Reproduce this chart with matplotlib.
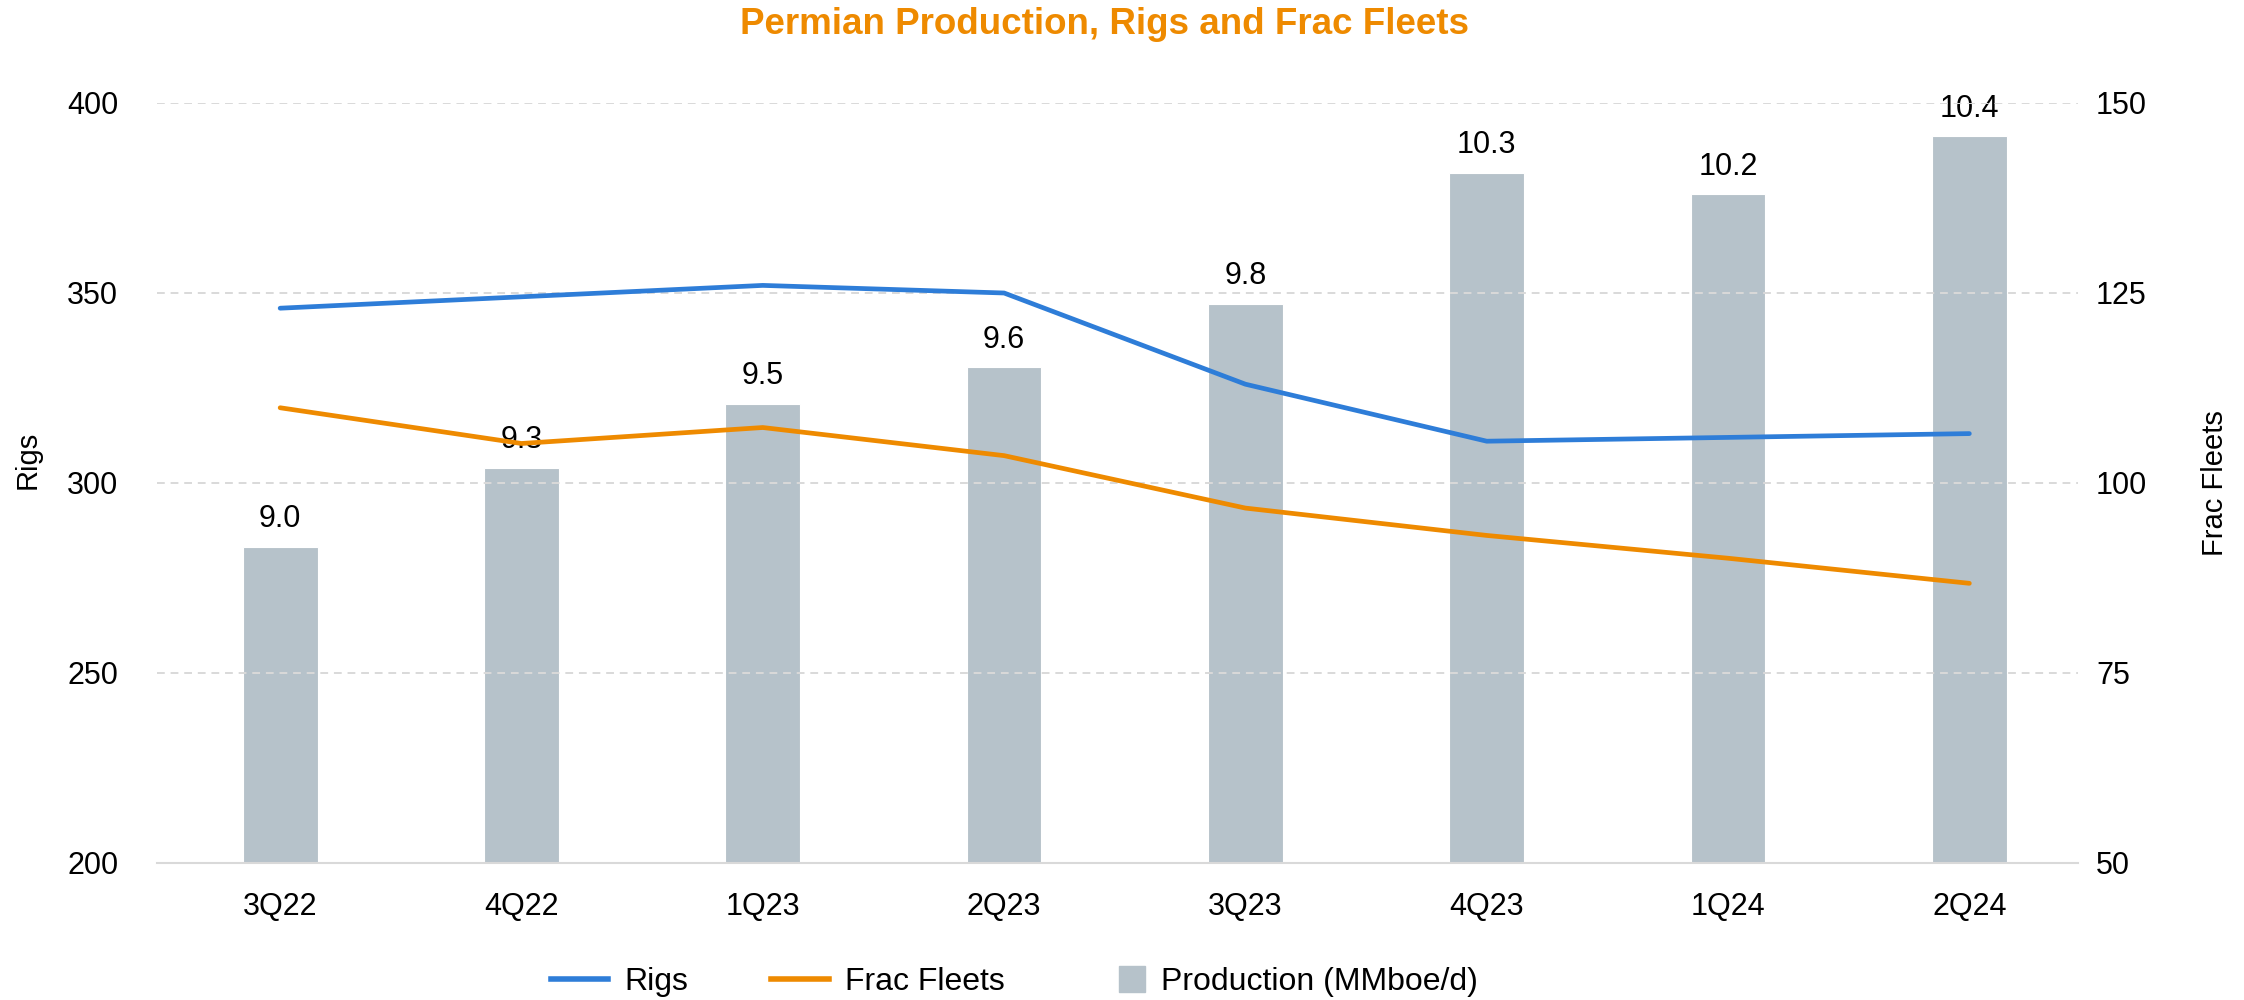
import matplotlib.pyplot as plt
from matplotlib.lines import Line2D
from matplotlib.patches import Patch, Rectangle
from matplotlib.legend_handler import HandlerPatch

# Data
quarters = ['3Q22', '4Q22', '1Q23', '2Q23', '3Q23', '4Q23', '1Q24', '2Q24']
rigs = [346, 349, 352, 350, 326, 311, 312, 313]
frac_fleets = [109.9, 105.2, 107.3, 103.6, 96.7, 93.1, 90.1, 86.8]
production = [9.04, 9.30, 9.51, 9.63, 9.84, 10.27, 10.20, 10.39]

blue = '#2E7DD8'
orange = '#EE8A00'
bar_color = '#B6C2CA'
grid_color = '#D9D9D9'

plt.rcParams['font.family'] = ['Liberation Sans', 'DejaVu Sans']

fig = plt.figure(figsize=(22.44, 10), dpi=100)
ax = fig.add_axes([0.070, 0.137, 0.856, 0.760])
ax2 = ax.twinx()
ax3 = ax.twinx()

x = list(range(len(quarters)))

# production bars on a hidden axis, drawn underneath
ax3.set_zorder(0)
ax.set_zorder(1)
ax2.set_zorder(2)
ax.patch.set_visible(False)
ax2.patch.set_visible(False)

ax3.bar(x, production, width=0.31, color=bar_color, edgecolor='white', linewidth=0.8)
ax3.set_ylim(8.0, 10.5)
ax3.axis('off')
for xi, v in zip(x, production):
    ax3.annotate(f'{v:.1f}', (xi, v), xytext=(0, 9), textcoords='offset points',
                 ha='center', va='bottom', fontsize=22)

ax.plot(x, rigs, color=blue, lw=3.4, solid_capstyle='round')
ax2.plot(x, frac_fleets, color=orange, lw=3.4, solid_capstyle='round')

ax.set_ylim(200, 400)
ax.set_yticks([200, 250, 300, 350, 400])
ax2.set_ylim(50, 150)
ax2.set_yticks([50, 75, 100, 125, 150])
ax.set_xlim(-0.51, 7.45)
ax.set_xticks(x)
ax.set_xticklabels(quarters)

ax.grid(axis='y', color=grid_color, linestyle=(0, (4, 3)), lw=1.4)

for a in (ax, ax2):
    for s in a.spines.values():
        s.set_visible(False)
    a.tick_params(length=0, labelsize=22)
ax.spines['bottom'].set_visible(True)
ax.spines['bottom'].set_color(grid_color)
ax.spines['bottom'].set_linewidth(1.5)
ax.tick_params(axis='x', pad=21)
ax.tick_params(axis='y', pad=28)
ax2.tick_params(axis='y', pad=13)

ax.set_ylabel('Rigs', fontsize=21)
ax.yaxis.set_label_coords(-0.060, 0.53)
ax2.set_ylabel('Frac Fleets', fontsize=21)
ax2.yaxis.set_label_coords(1.064, 0.5)

fig.text(0.492, 0.976, 'Permian Production, Rigs and Frac Fleets', ha='center', va='center',
         color=orange, fontsize=26.5, fontweight='bold')


def square_handle(legend, orig_handle, xdescent, ydescent, width, height, fontsize):
    side = 19
    return Rectangle((width - side - xdescent, height / 2 - side / 2 - ydescent), side, side)


handles = [Line2D([], [], color=blue, lw=4),
           Line2D([], [], color=orange, lw=4),
           Patch(color=bar_color)]
fig.legend(handles, ['Rigs', 'Frac Fleets', 'Production (MMboe/d)'],
           loc='center', bbox_to_anchor=(0.452, 0.018), ncol=3, frameon=False,
           fontsize=23, handlelength=1.8, handletextpad=0.5, columnspacing=2.6,
           handler_map={Patch: HandlerPatch(patch_func=square_handle)})

fig.savefig('out.png', dpi=100)
